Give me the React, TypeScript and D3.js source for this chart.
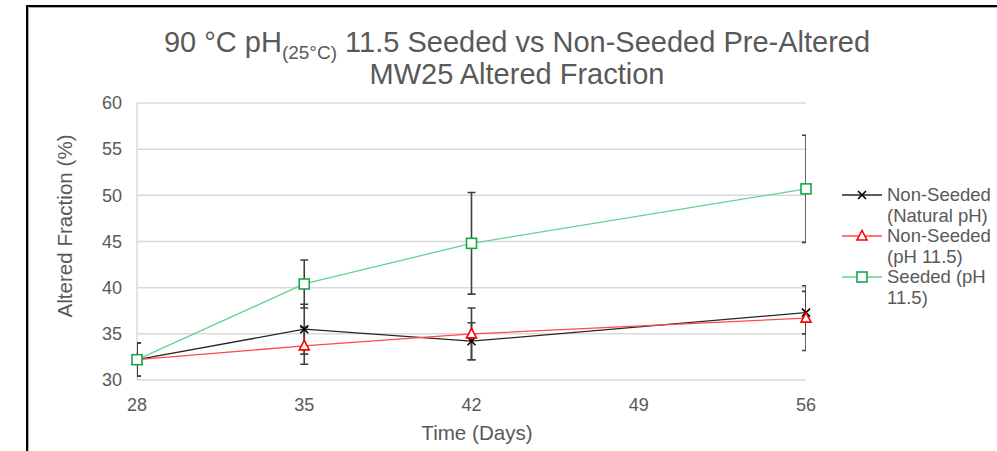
import * as d3 from 'd3'

// data
const days = [28, 35, 42, 56]
const naturalPH = [32.2, 35.5, 34.2, 37.3]
const naturalErr = [1.8, 2.7, 2.0, 2.3]
const ph115 = [32.2, 33.7, 35.0, 36.7]
const ph115Err = [1.8, 2.0, 2.8, 3.5]
const seeded = [32.2, 40.4, 44.8, 50.7]
const seededErr = [1.8, 2.6, 5.5, 5.8]
const xTicks = [28, 35, 42, 49, 56]
const yTicks = [30, 35, 40, 45, 50, 55, 60]

const W = 997
const H = 451
const left = 137
const right = 806
const top = 103
const bottom = 380
const grey = '#595959'
const font = '"Liberation Sans", Arial, sans-serif'

type Series = {
  name: string[]
  values: number[]
  err: number[]
  line: string
  mark: string
  shape: 'x' | 'tri' | 'sq'
}

const series: Series[] = [
  { name: ['Non-Seeded', '(Natural pH)'], values: naturalPH, err: naturalErr, line: '#262626', mark: '#000', shape: 'x' },
  { name: ['Non-Seeded', '(pH 11.5)'], values: ph115, err: ph115Err, line: '#ff4a4a', mark: '#ff0000', shape: 'tri' },
  { name: ['Seeded (pH', '11.5)'], values: seeded, err: seededErr, line: '#62d291', mark: '#14a84a', shape: 'sq' },
]

function Marker({ shape, cx, cy, color }: { shape: string; cx: number; cy: number; color: string }) {
  if (shape === 'x')
    return (
      <path
        d={`M${cx - 4},${cy - 4}L${cx + 4},${cy + 4}M${cx - 4},${cy + 4}L${cx + 4},${cy - 4}`}
        stroke={color}
        strokeWidth={1.6}
      />
    )
  if (shape === 'tri')
    return (
      <path
        d={`M${cx},${cy - 5.5}L${cx + 5},${cy + 4}L${cx - 5},${cy + 4}Z`}
        fill="#fff"
        stroke={color}
        strokeWidth={1.6}
      />
    )
  return <rect x={cx - 5} y={cy - 5} width={10} height={10} fill="#fff" stroke={color} strokeWidth={1.6} />
}

export default function App() {
  const x = d3.scaleLinear([28, 56], [left, right])
  const y = d3.scaleLinear([30, 60], [bottom, top])
  const line = d3.line<number>((d, i) => x(days[i]), (d) => y(d))

  return (
    <svg width={W} height={H} style={{ position: 'absolute', left: 0, top: 0 }} fontFamily={font}>
      <defs>
        <clipPath id="plot">
          <rect x={left} y={top} width={right - left} height={bottom - top} />
        </clipPath>
      </defs>
      <rect width={W} height={H} fill="#fff" />
      {/* outer frame */}
      <path d={`M27,${H}V6H${W}`} fill="none" stroke="#000" strokeWidth={2} />
      <path d={`M28.5,${H}V7.5H${W}`} fill="none" stroke="#aaa" strokeWidth={1} />

      {/* title */}
      <text x={517} y={52} textAnchor="middle" fontSize={29} fill={grey}>
        90 °C pH
        <tspan fontSize={19} dy={7}>(25°C)</tspan>
        <tspan dy={-7}> 11.5 Seeded vs Non-Seeded Pre-Altered</tspan>
      </text>
      <text x={517} y={84} textAnchor="middle" fontSize={29} fill={grey}>
        MW25 Altered Fraction
      </text>

      {/* grid */}
      <g stroke="#d9d9d9" strokeWidth={1.5}>
        {yTicks.map((t) => (
          <line key={t} x1={left} x2={right} y1={y(t)} y2={y(t)} />
        ))}
        <line x1={left} x2={left} y1={top} y2={bottom} />
      </g>

      {/* tick labels */}
      <g fontSize={18} fill={grey}>
        {yTicks.map((t) => (
          <text key={t} x={left - 15} y={y(t)} dy="0.35em" textAnchor="end">
            {t}
          </text>
        ))}
        {xTicks.map((t) => (
          <text key={t} x={x(t)} y={bottom + 25} dy="0.35em" textAnchor="middle">
            {t}
          </text>
        ))}
      </g>
      <text x={477} y={433} dy="0.35em" textAnchor="middle" fontSize={20.6} fill={grey}>
        Time (Days)
      </text>
      <text
        transform={`translate(65,226) rotate(-90)`}
        dy="0.35em"
        textAnchor="middle"
        fontSize={20.6}
        fill={grey}
      >
        Altered Fraction (%)
      </text>

      {/* error bars */}
      <g clipPath="url(#plot)" stroke="#404040" strokeWidth={1.6}>
        {series.map((s) =>
          s.values.map((v, i) => {
            const cx = x(days[i])
            const y1 = y(v + s.err[i])
            const y2 = y(v - s.err[i])
            return (
              <path
                key={s.shape + i}
                d={`M${cx},${y1}V${y2}M${cx - 4},${y1}H${cx + 4}M${cx - 4},${y2}H${cx + 4}`}
              />
            )
          })
        )}
      </g>

      {/* lines and markers */}
      {series.map((s) => (
        <g key={s.shape}>
          <path d={line(s.values) ?? undefined} fill="none" stroke={s.line} strokeWidth={1.3} />
          {s.values.map((v, i) => (
            <Marker key={i} shape={s.shape} cx={x(days[i])} cy={y(v)} color={s.mark} />
          ))}
        </g>
      ))}

      {/* legend */}
      {series.map((s, k) => {
        const ly = 195 + k * 41
        return (
          <g key={s.shape}>
            <line x1={842} x2={882} y1={ly} y2={ly} stroke={s.line} strokeWidth={1.3} />
            <Marker shape={s.shape} cx={862} cy={ly} color={s.mark} />
            {s.name.map((n, j) => (
              <text key={j} x={887} y={ly + j * 21} dy="0.35em" fontSize={18.5} fill={grey}>
                {n}
              </text>
            ))}
          </g>
        )
      })}
    </svg>
  )
}
